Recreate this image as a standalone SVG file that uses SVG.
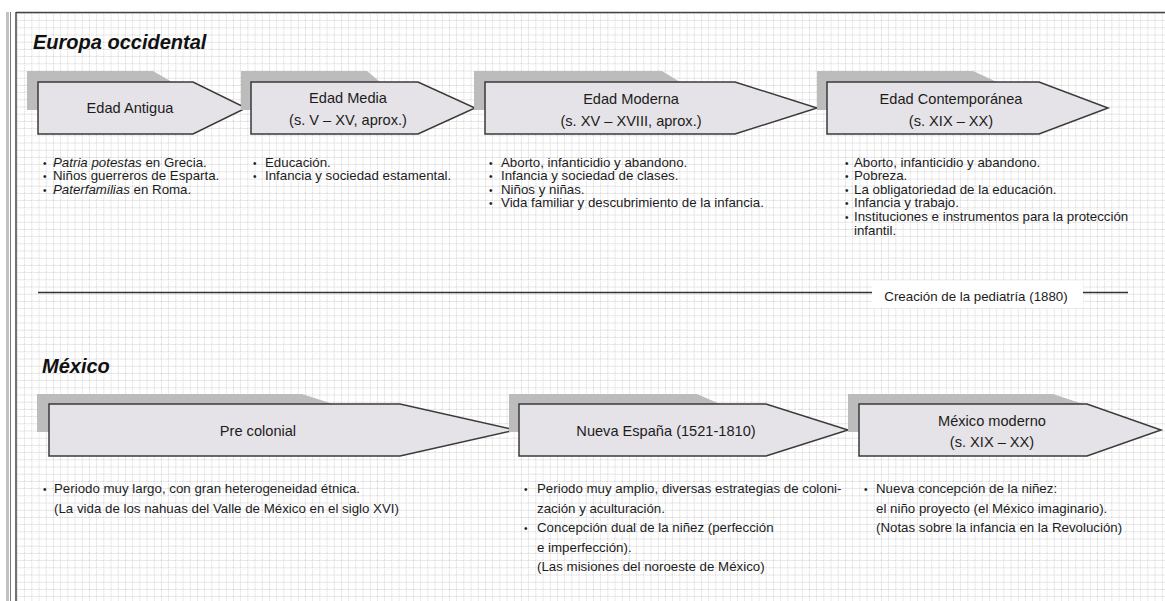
<svg xmlns="http://www.w3.org/2000/svg" width="1165" height="601" viewBox="0 0 1165 601">
  <defs>
    <pattern id="grid" x="17" y="13" width="7.2" height="7.2" patternUnits="userSpaceOnUse">
      <path d="M0 0.5H7.2M0.5 0V7.2" stroke="#cdcdcd" stroke-width="1" stroke-dasharray="1 1" fill="none"/>
    </pattern>
  </defs>
  <style>
    .shadow { fill: #bcbcbc; }
    .arrow { fill: #e5e3e7; stroke: #3a3a3a; stroke-width: 1.5; stroke-linejoin: miter; }
    .title { font-family: "Liberation Sans", Arial, sans-serif; font-size: 14.6px; fill: #1c1c1c; text-anchor: middle; }
    .head { font-family: "Liberation Sans", Arial, sans-serif; font-size: 20px; font-weight: bold; font-style: italic; fill: #111; }
    .item { font-family: "Liberation Sans", Arial, sans-serif; font-size: 13.3px; fill: #1c1c1c; }
    .dot { font-family: "Liberation Sans", Arial, sans-serif; font-size: 10px; fill: #1c1c1c; }
    .it { font-style: italic; }
    .rule { stroke: #333; stroke-width: 1.3; fill: none; }
  </style>

  <!-- page and frame -->
  <rect x="0" y="0" width="1165" height="601" fill="#fff"/>
  <rect x="17" y="13" width="1148" height="588" fill="url(#grid)"/>
  <rect x="6" y="12" width="3" height="589" fill="#c2c2c2"/>
  <line x1="10.5" y1="12" x2="10.5" y2="601" stroke="#777" stroke-width="1"/>
  <line x1="16" y1="12" x2="16" y2="601" stroke="#444" stroke-width="1.5"/>
  <line x1="16" y1="12.5" x2="1165" y2="12.5" stroke="#444" stroke-width="1.5"/>

  <!-- section headings -->
  <text class="head" x="33" y="49">Europa occidental</text>
  <text class="head" x="42" y="373">México</text>

  <!-- dividing rule with pediatrics label -->
  <g id="connectors">
    <line class="rule" x1="38" y1="292.5" x2="1128" y2="292.5"/>
  </g>
  <g id="pediatria">
    <rect x="872" y="281" width="211" height="27" fill="#fff"/>
    <text class="item" x="976" y="301" text-anchor="middle">Creación de la pediatría (1880)</text>
  </g>

  <!-- Europa occidental: periods -->
  <g id="edad-antigua">
    <polygon class="shadow" points="27,71 153,71 172,82 172,110 27,110"/>
    <polygon class="arrow" points="38,82 193,82 246,108 193,134 38,134"/>
    <text class="title" x="130" y="113">Edad Antigua</text>
  </g>
  <g id="edad-media">
    <polygon class="shadow" points="241,71 367,71 380,82 380,110 241,110"/>
    <polygon class="arrow" points="251,82 418,82 475,108 418,134 251,134"/>
    <text class="title" x="348" y="103">Edad Media</text>
    <text class="title" x="348" y="125">(s. V – XV, aprox.)</text>
  </g>
  <g id="edad-moderna">
    <polygon class="shadow" points="474,71 662,71 680,82 680,110 474,110"/>
    <polygon class="arrow" points="485,82 735,82 817,108 735,134 485,134"/>
    <text class="title" x="631" y="104">Edad Moderna</text>
    <text class="title" x="631" y="126">(s. XV – XVIII, aprox.)</text>
  </g>
  <g id="edad-contemporanea">
    <polygon class="shadow" points="817,71 973,71 997,82 997,110 817,110"/>
    <polygon class="arrow" points="827,82 1039,82 1108,108 1039,134 827,134"/>
    <text class="title" x="951" y="104">Edad Contemporánea</text>
    <text class="title" x="951" y="126">(s. XIX – XX)</text>
  </g>

  <!-- Europa occidental: topics -->
  <g id="temas-antigua">
    <text class="dot" x="43" y="166.5">•</text>
    <text class="item" x="53" y="166.5"><tspan class="it">Patria potestas</tspan> en Grecia.</text>
    <text class="dot" x="43" y="180">•</text>
    <text class="item" x="53" y="180">Niños guerreros de Esparta.</text>
    <text class="dot" x="43" y="193.7">•</text>
    <text class="item" x="53" y="193.7"><tspan class="it">Paterfamilias</tspan> en Roma.</text>
  </g>
  <g id="temas-media">
    <text class="dot" x="253" y="166.5">•</text>
    <text class="item" x="265" y="166.5">Educación.</text>
    <text class="dot" x="253" y="180">•</text>
    <text class="item" x="265" y="180">Infancia y sociedad estamental.</text>
  </g>
  <g id="temas-moderna">
    <text class="dot" x="489" y="166.5">•</text>
    <text class="item" x="501" y="166.5">Aborto, infanticidio y abandono.</text>
    <text class="dot" x="489" y="180">•</text>
    <text class="item" x="501" y="180">Infancia y sociedad de clases.</text>
    <text class="dot" x="489" y="193.7">•</text>
    <text class="item" x="501" y="193.7">Niños y niñas.</text>
    <text class="dot" x="489" y="207.3">•</text>
    <text class="item" x="501" y="207.3">Vida familiar y descubrimiento de la  infancia.</text>
  </g>
  <g id="temas-contemporanea">
    <text class="dot" x="845" y="166.5">•</text>
    <text class="item" x="854" y="166.5">Aborto, infanticidio y abandono.</text>
    <text class="dot" x="845" y="180">•</text>
    <text class="item" x="854" y="180">Pobreza.</text>
    <text class="dot" x="845" y="193.7">•</text>
    <text class="item" x="854" y="193.7">La obligatoriedad de la educación.</text>
    <text class="dot" x="845" y="207.3">•</text>
    <text class="item" x="854" y="207.3">Infancia y trabajo.</text>
    <text class="dot" x="845" y="221">•</text>
    <text class="item" x="854" y="221">Instituciones e instrumentos para la protección</text>
    <text class="item" x="854" y="235">infantil.</text>
  </g>

  <!-- México: periods -->
  <g id="pre-colonial">
    <polygon class="shadow" points="37,394 302,394 333,404 333,432 37,432"/>
    <polygon class="arrow" points="49,404 400,404 516,430 400,456 49,456"/>
    <text class="title" x="258" y="436">Pre colonial</text>
  </g>
  <g id="nueva-espana">
    <polygon class="shadow" points="509,394 697,394 720,404 720,432 509,432"/>
    <polygon class="arrow" points="519,404 766,404 848,430 766,456 519,456"/>
    <text class="title" x="666" y="436">Nueva España (1521-1810)</text>
  </g>
  <g id="mexico-moderno">
    <polygon class="shadow" points="848,394 1053,394 1083,404 1083,432 848,432"/>
    <polygon class="arrow" points="859,404 1087,404 1161,430 1087,456 859,456"/>
    <text class="title" x="992" y="426">México moderno</text>
    <text class="title" x="992" y="447">(s. XIX – XX)</text>
  </g>

  <!-- México: topics -->
  <g id="temas-pre-colonial">
    <text class="dot" x="43" y="493">•</text>
    <text class="item" x="54" y="493">Periodo muy largo, con gran heterogeneidad étnica.</text>
    <text class="item" x="54" y="512.5">(La vida de los nahuas del Valle de México en el siglo XVI)</text>
  </g>
  <g id="temas-nueva-espana">
    <text class="dot" x="524" y="493">•</text>
    <text class="item" x="537" y="493">Periodo muy amplio, diversas estrategias de coloni-</text>
    <text class="item" x="537" y="512.5">zación y aculturación.</text>
    <text class="dot" x="524" y="532">•</text>
    <text class="item" x="537" y="532">Concepción dual de la niñez (perfección</text>
    <text class="item" x="537" y="551.5">e imperfección).</text>
    <text class="item" x="537" y="571">(Las misiones del noroeste de México)</text>
  </g>
  <g id="temas-mexico-moderno">
    <text class="dot" x="864" y="493">•</text>
    <text class="item" x="876" y="493">Nueva concepción de la niñez:</text>
    <text class="item" x="876" y="512.5">el niño proyecto (el México imaginario).</text>
    <text class="item" x="876" y="532">(Notas sobre la infancia en la Revolución)</text>
  </g>
</svg>
